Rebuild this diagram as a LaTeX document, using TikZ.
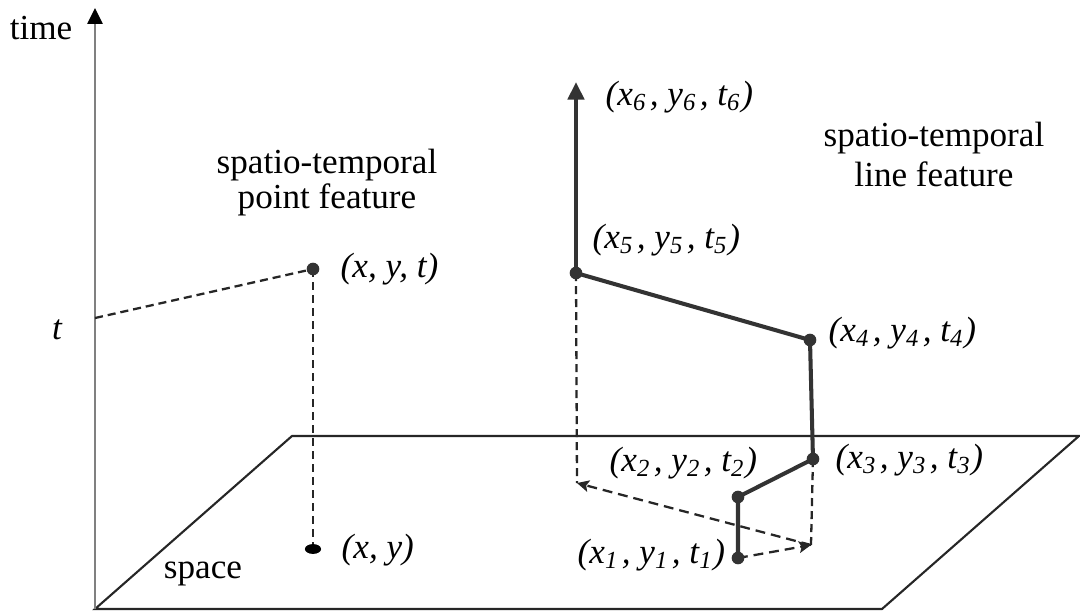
\documentclass[tikz,border=0pt]{standalone}
\usepackage{fontspec}
\setmainfont{Liberation Serif}
\usetikzlibrary{arrows.meta, positioning}

\newcommand{\stsub}[1]{\textsubscript{#1}\kern0.8pt}
\newcommand{\tightlines}{\lineskiplimit=-10pt\relax}

\begin{document}
\begin{tikzpicture}[
    x=0.1mm, y=-0.1mm,
    every node/.style={font=\fontsize{10}{12}\selectfont},
    lbl/.style={anchor=west, inner sep=0pt, font=\fontsize{10}{12}\selectfont\itshape},
    title/.style={align=center, anchor=base, inner sep=0pt},
    plane/.style={line width=0.6pt, black!85},
    track/.style={line width=1.15pt, black!80},
    proj/.style={line width=0.65pt, black!85, dash pattern=on 2.3pt off 1.4pt},
    projarrow/.style={proj, dash pattern=on 2.8pt off 1.7pt, -{Stealth[length=3.4pt, width=3.3pt, inset=0.7pt]}},
]
\useasboundingbox (0,0) rectangle (1080,613);

% Space plane and time axis
\coordinate (o) at (95,609);
\coordinate (tt) at (95,8);
\coordinate (br) at (882,609);
\coordinate (tr) at (1079,436);
\coordinate (tl) at (292,436);
\draw[plane] (o) -- (br) -- (tr) -- (tl) -- cycle;
\draw[gray, line width=0.8pt, -{Triangle[color=black, length=4.5pt, width=4.2pt]}] (o) -- (tt);
\coordinate (tmark) at (95,318);

\node[anchor=east, inner sep=0pt] (timelbl) at (73,28) {time};
\node[inner sep=0pt, font=\fontsize{10}{12}\selectfont\itshape] (tlbl) at (57,330) {t};
\node[anchor=base, inner sep=0pt] (spacelbl) at (203,578) {space};

% Point feature
\coordinate (pt) at (313,269);
\coordinate (pxy) at (313,549);
\draw[proj] (tmark) -- (pt);
\draw[proj] (pt) -- (pxy);
\fill[black!80] (pt) circle (1.8pt);
\fill[black] (pxy) ellipse (2.3pt and 1.4pt);
\node[lbl] (ptlbl) at (340,269) {(x, y, t)};
\node[lbl] (pxylbl) at (341,550) {(x, y)};
\node[title, font=\fontsize{10}{9.9}\selectfont\tightlines] (ptitle) at (327,208) {spatio-temporal\\point feature};

% Line feature
\coordinate (p1) at (738,558);
\coordinate (p2) at (738,497);
\coordinate (p3) at (813,459);
\coordinate (p4) at (810,340);
\coordinate (p5) at (576,273);
\coordinate (p6) at (576,82);
\coordinate (q3) at (811,545);
\coordinate (q5) at (577,483);

\draw[proj] (p5) -- (q5);
\draw[proj] (p3) -- (q3);
\draw[projarrow] (p1) -- (q3);
\draw[projarrow] (q3) -- (q5);

\draw[track, line join=round] (p1) -- (p2) -- (p3) -- (p4) -- (p5);
\draw[track, -{Triangle[length=5pt, width=4.6pt]}] (p5) -- (p6);
\foreach \p in {p1,p2,p3,p4,p5} {
    \fill[black!80] (\p) circle (1.8pt);
}

\node[lbl] (l6) at (605,97) {(x\stsub{6}, y\stsub{6}, t\textsubscript{6})};
\node[lbl] (l5) at (592,240) {(x\stsub{5}, y\stsub{5}, t\textsubscript{5})};
\node[lbl] (l4) at (828,333) {(x\stsub{4}, y\stsub{4}, t\textsubscript{4})};
\node[lbl] (l3) at (835,460) {(x\stsub{3}, y\stsub{3}, t\textsubscript{3})};
\node[lbl] (l2) at (609,463) {(x\stsub{2}, y\stsub{2}, t\textsubscript{2})};
\node[lbl] (l1) at (577,555) {(x\stsub{1}, y\stsub{1}, t\textsubscript{1})};
\node[title, font=\fontsize{10}{11.2}\selectfont] (ltitle) at (934,186) {spatio-temporal\\line feature};

\end{tikzpicture}
\end{document}
